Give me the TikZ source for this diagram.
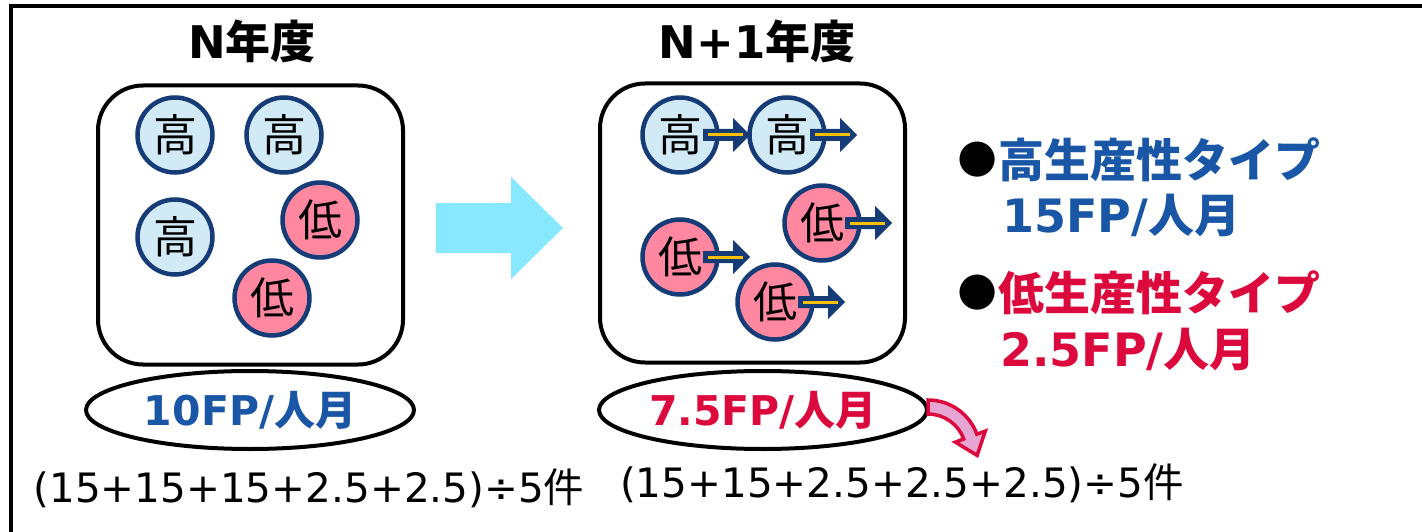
\documentclass[tikz,border=0pt]{standalone}
\usepackage{fontspec}
\setmainfont{DejaVu Sans}
\newfontfamily\cjk{Noto Sans CJK JP}
\usetikzlibrary{shapes.geometric}
\definecolor{cblue}{RGB}{26,86,166}
\definecolor{cred}{RGB}{220,10,60}
\definecolor{navy}{RGB}{22,60,120}
\definecolor{lblue}{RGB}{210,234,246}
\definecolor{lpink}{RGB}{255,136,160}
\definecolor{cyanarr}{RGB}{135,232,255}
\definecolor{ppink}{RGB}{230,165,210}
\definecolor{gold}{RGB}{255,192,0}
\newcommand\sarr[1]{\begin{scope}[shift={(#1.center)}]
 \fill[navy] (23,-6) -- (53,-6) -- (53,-17) -- (70,0) -- (53,17) -- (53,6) -- (23,6) -- cycle;
 \draw[gold, line width=3pt] (28,0) -- (63,0);
\end{scope}}
\begin{document}
\begin{tikzpicture}[x=1pt,y=-1pt,
 hi/.style={circle, draw=navy, line width=4.5pt, fill=lblue, minimum size=75pt, inner sep=0pt, font=\cjk\fontsize{44}{44}\selectfont},
 lo/.style={hi, fill=lpink},
 box/.style={draw, line width=4pt, rounded corners=45pt, minimum width=305pt, minimum height=279pt},
 ell/.style={draw, ellipse, line width=4pt, minimum width=328pt, minimum height=78pt, inner sep=0pt, font=\bfseries\fontsize{41}{41}\selectfont},
 title/.style={font=\bfseries\fontsize{45}{45}\selectfont, inner sep=0pt},
 leg/.style={anchor=west, inner sep=0pt, font=\bfseries\fontsize{46}{46}\selectfont},
 formula/.style={inner sep=0pt, font=\fontsize{40.5}{40.5}\selectfont}]
\useasboundingbox (0,0) rectangle (1422,532);
% frame
\draw[line width=4pt] (11,560) -- (11,6.5) -- (1460,6.5);
% titles
\node[title] (t1) at (252,41) {N{\cjk 年度}};
\node[title] (t2) at (757,41) {N+1{\cjk 年度}};
% boxes
\node[box] (b1) at (250.5,225) {};
\node[box] (b2) at (752.5,223) {};
% left circles
\node[hi] (a1) at (175,135) {高};
\node[hi] (a2) at (284,135) {高};
\node[hi] (a3) at (175,237) {高};
\node[lo] (a4) at (320,220) {低};
\node[lo] (a5) at (272,298) {低};
% right circles
\node[hi] (c1) at (680,135) {高};
\node[hi] (c2) at (787,135) {高};
\node[lo] (c3) at (822,223) {低};
\node[lo] (c4) at (680,257) {低};
\node[lo] (c5) at (775,302) {低};
\sarr{c1}\sarr{c2}\sarr{c3}\sarr{c4}\sarr{c5}
% big arrow
\fill[cyanarr] (436,203) -- (511,203) -- (511,177) -- (563,228) -- (511,279) -- (511,253) -- (436,253) -- cycle;
% ellipses
\node[ell, text=cblue] (e1) at (250,410) {10FP/{\cjk 人月}};
\node[ell, text=cred] (e2) at (763,410) {7.5FP/{\cjk 人月}};
% curved arrow
\draw[cred, fill=ppink, line width=3.5pt, line join=miter]
 (928,400) arc[start angle=-90, end angle=-20, radius=52]
 -- (985.3,431.1) -- (977.1,455.4) -- (955.3,442.1) -- (963.7,439.0)
 arc[start angle=-20, end angle=-90, radius=38] -- cycle;
% formulas
\node[formula] (f1) at (309,488) {(15+15+15+2.5+2.5)÷5{\cjk 件}};
\node[formula] (f2) at (902,483) {(15+15+2.5+2.5+2.5)÷5{\cjk 件}};
% legend
\node[leg] (bu1) at (957,160) {●};
\node[leg, text=cblue] (l1) at (998,160) {{\cjk 高生産性タイプ}};
\node[leg, text=cblue] (l2) at (1002,215) {15FP/{\cjk 人月}};
\node[leg] (bu2) at (957,293) {●};
\node[leg, text=cred] (l3) at (998,293) {{\cjk 低生産性タイプ}};
\node[leg, text=cred] (l4) at (1000,349) {2.5FP/{\cjk 人月}};
\end{tikzpicture}
\end{document}
